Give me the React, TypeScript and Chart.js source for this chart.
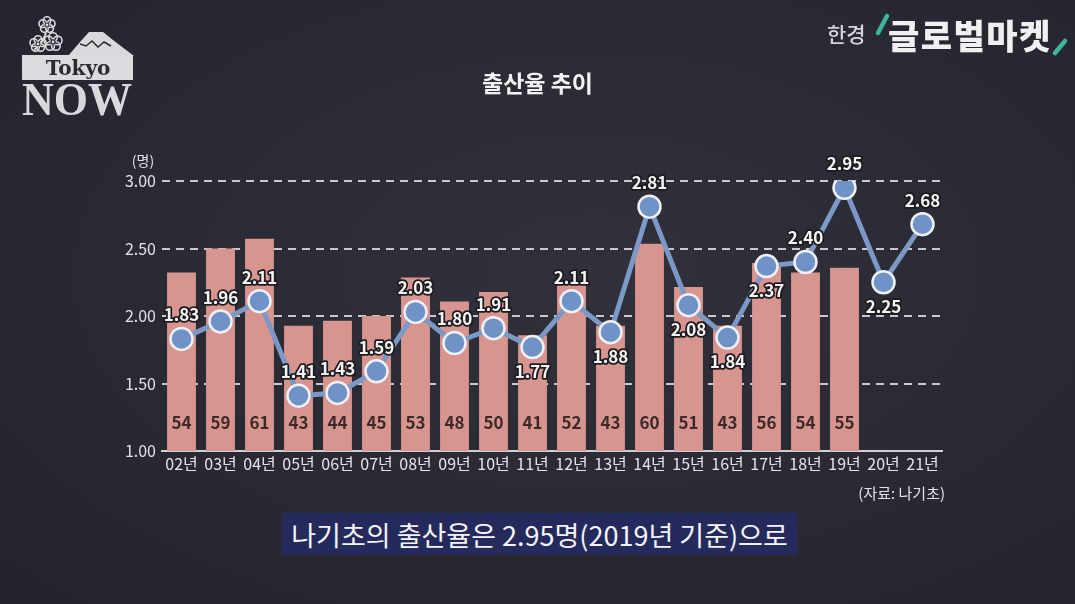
import React, { useEffect, useRef } from "react";
import { Chart, registerables } from "chart.js";

Chart.register(...registerables);

const categories = ["02년", "03년", "04년", "05년", "06년", "07년", "08년", "09년", "10년", "11년", "12년", "13년", "14년", "15년", "16년", "17년", "18년", "19년", "20년", "21년"];
const birthRates = [1.83, 1.96, 2.11, 1.41, 1.43, 1.59, 2.03, 1.8, 1.91, 1.77, 2.11, 1.88, 2.81, 2.08, 1.84, 2.37, 2.4, 2.95, 2.25, 2.68];
const births: (number | null)[] = [54, 59, 61, 43, 44, 45, 53, 48, 50, 41, 52, 43, 60, 51, 43, 56, 54, 55, null, null];
const rateTicks = [1.0, 1.5, 2.0, 2.5, 3.0];

// label placement (style): above or below the point
const rateLabelSide = ["top", "top", "top", "top", "top", "top", "top", "top", "top", "bottom", "top", "bottom", "top", "bottom", "bottom", "bottom", "top", "top", "bottom", "top"];

const FONT = '"Noto Sans CJK KR", "Noto Sans", sans-serif';

const labelPlugin = {
  id: "valueLabels",
  afterDatasetsDraw(chart: any) {
    const ctx = chart.ctx;
    const bottom = chart.chartArea.bottom;
    ctx.save();
    ctx.textAlign = "center";
    ctx.textBaseline = "middle";
    ctx.font = `bold 17px ${FONT}`;
    const barMeta = chart.getDatasetMeta(0);
    barMeta.data.forEach((el: any, i: number) => {
      const v = births[i];
      if (v == null) return;
      ctx.fillStyle = "#3b2a2a";
      ctx.fillText(String(v), el.x, bottom - 28);
    });
    ctx.font = `bold 17px ${FONT}`;
    const lineMeta = chart.getDatasetMeta(1);
    lineMeta.data.forEach((el: any, i: number) => {
      const y = el.y + (rateLabelSide[i] === "top" ? -24 : 24);
      const txt = birthRates[i].toFixed(2);
      ctx.lineJoin = "round";
      ctx.lineWidth = 3.5;
      ctx.strokeStyle = "#1b1b20";
      ctx.strokeText(txt, el.x, y);
      ctx.fillStyle = "#f4f4f4";
      ctx.fillText(txt, el.x, y);
    });
    ctx.restore();
  },
};

function ChartCanvas() {
  const ref = useRef<HTMLCanvasElement | null>(null);
  useEffect(() => {
    if (!ref.current) return;
    Chart.defaults.font.family = FONT;
    const chart = new Chart(ref.current, {
      type: "bar",
      data: {
        labels: categories,
        datasets: [
          {
            type: "bar",
            data: births as any,
            yAxisID: "y1",
            backgroundColor: "#d8958f",
            barPercentage: 0.74,
            categoryPercentage: 1,
            order: 2,
          },
          {
            type: "line",
            data: birthRates,
            yAxisID: "y",
            borderColor: "#7b98c6",
            borderWidth: 5,
            pointRadius: 11,
            pointBackgroundColor: "#6f93c6",
            pointBorderColor: "#eef0f4",
            pointBorderWidth: 2.5,
            tension: 0,
            order: 1,
          } as any,
        ],
      },
      options: {
        responsive: false,
        animation: false,
        layout: { padding: { top: 181, right: 133, left: 0, bottom: 0 } },
        plugins: { legend: { display: false }, tooltip: { enabled: false } },
        scales: {
          x: {
            grid: { display: false, drawTicks: false },
            border: { display: true, color: "#cfcfd4", width: 2 },
            ticks: { color: "#e4e4e8", font: { size: 16 }, padding: 3 },
            afterFit: (s: any) => {
              s.height = 153;
            },
          },
          y: {
            min: 1,
            max: 3,
            afterBuildTicks: (s: any) => {
              s.ticks = rateTicks.map((v) => ({ value: v }));
            },
            ticks: {
              color: "#e2e2e6",
              font: { size: 16 },
              padding: 6,
              callback: (v: any) => Number(v).toFixed(2),
            },
            grid: {
              drawTicks: false,
              lineWidth: 2,
              color: (c: any) => (c.tick && c.tick.value === 1 ? "rgba(0,0,0,0)" : "rgba(228,228,232,0.85)"),
            },
            border: { display: false, dash: [8, 6] },
            afterFit: (s: any) => {
              s.width = 162;
            },
          },
          y1: {
            display: false,
            position: "right",
            min: 17,
            max: 73,
          },
        },
      } as any,
      plugins: [labelPlugin],
    });
    return () => chart.destroy();
  }, []);
  return <canvas ref={ref} width={1075} height={604} style={{ position: "absolute", left: 0, top: 0, width: 1075, height: 604 }} />;
}

function Blossom({ cx, cy, r, c }: { cx: number; cy: number; r: number; c: string }) {
  const petals = [0, 1, 2, 3, 4].map((k) => {
    const a = (k * 72 - 90) * (Math.PI / 180);
    return [cx + Math.cos(a) * r * 0.55, cy + Math.sin(a) * r * 0.55];
  });
  return (
    <g>
      {petals.map(([x, y], i) => (
        <circle key={i} cx={x} cy={y} r={r * 0.48} fill="none" stroke={c} strokeWidth={1.6} />
      ))}
      <circle cx={cx} cy={cy} r={r * 0.3} fill="#2a2b34" />
      <circle cx={cx} cy={cy} r={1.4} fill={c} />
    </g>
  );
}

function TokyoLogo() {
  const c = "#d8d8dd";
  return (
    <svg width={150} height={125} style={{ position: "absolute", left: 0, top: 0 }}>
      <path d="M34 50 Q42 44 46 33" stroke={c} strokeWidth={2} fill="none" />
      <Blossom cx={47} cy={25} r={8} c={c} />
      <Blossom cx={38} cy={44} r={8} c={c} />
      <Blossom cx={53} cy={42} r={9} c={c} />
      <polygon points="68,56 80,42 89,32 103,32 113,40 134,56" fill={c} />
      <polyline points="80,44 86,46 92,41 98,47 104,42 111,46" fill="none" stroke="#2a2b34" strokeWidth={1.5} />
      <rect x={22} y={55} width={111} height={25} fill="#dadadf" />
      <text x={78} y={75} textAnchor="middle" fontFamily='"DejaVu Serif", serif' fontWeight="bold" fontSize={20} fill="#2a2a30">
        Tokyo
      </text>
      <text x={22} y={115} fontFamily='"Liberation Serif", serif' fontWeight="bold" fontSize={47} fill={c} textLength={110} lengthAdjust="spacingAndGlyphs">
        NOW
      </text>
    </svg>
  );
}

function HankyungLogo() {
  return (
    <>
      <svg width={1075} height={70} style={{ position: "absolute", left: 0, top: 0 }}>
        <line x1={887} y1={16} x2={878} y2={33} stroke="#3bb59b" strokeWidth={4.5} strokeLinecap="round" />
        <line x1={1065} y1={41} x2={1055} y2={53} stroke="#3bb59b" strokeWidth={4.5} strokeLinecap="round" />
      </svg>
      <div style={{ position: "absolute", left: 827, top: 35 - 0.55 * 21, fontFamily: FONT, fontSize: 21, lineHeight: "21px", color: "#d3d3d8", fontWeight: 500, whiteSpace: "nowrap" }}>
        한경
      </div>
      <div style={{ position: "absolute", left: 888, top: 37 - 0.55 * 34, fontFamily: FONT, fontSize: 34, lineHeight: "34px", color: "#f0f0f2", fontWeight: 900, whiteSpace: "nowrap", letterSpacing: 1.5 }}>
        글로벌마켓
      </div>
    </>
  );
}

export default function App() {
  return (
    <div
      style={{
        position: "fixed",
        left: 0,
        top: 0,
        width: 1075,
        height: 604,
        overflow: "hidden",
        background: "radial-gradient(ellipse at 55% 45%, #30313b 0%, #2a2b35 45%, #22232c 100%)",
        fontFamily: FONT,
      }}
    >
      <ChartCanvas />
      <TokyoLogo />
      <HankyungLogo />
      <div style={{ position: "absolute", left: 0, width: 1075, top: 84 - 0.55 * 23, textAlign: "center", fontSize: 23, lineHeight: "23px", fontWeight: 700, color: "#f2f2f4" }}>
        출산율 추이
      </div>
      <div style={{ position: "absolute", left: 123, width: 40, top: 161 - 0.55 * 14, textAlign: "center", fontSize: 14, lineHeight: "14px", color: "#e2e2e6" }}>
        (명)
      </div>
      <div style={{ position: "absolute", right: 130, top: 493 - 0.55 * 15, fontSize: 15, lineHeight: "15px", color: "#e2e2e6", whiteSpace: "nowrap" }}>
        (자료: 나기초)
      </div>
      <div
        style={{
          position: "absolute",
          left: 282,
          top: 513,
          width: 515,
          height: 42,
          background: "#242a5c",
          display: "flex",
          alignItems: "center",
          justifyContent: "center",
          color: "#f4f4f6",
          fontSize: 27,
          whiteSpace: "nowrap",
        }}
      >
        나기초의 출산율은 2.95명(2019년 기준)으로
      </div>
    </div>
  );
}
